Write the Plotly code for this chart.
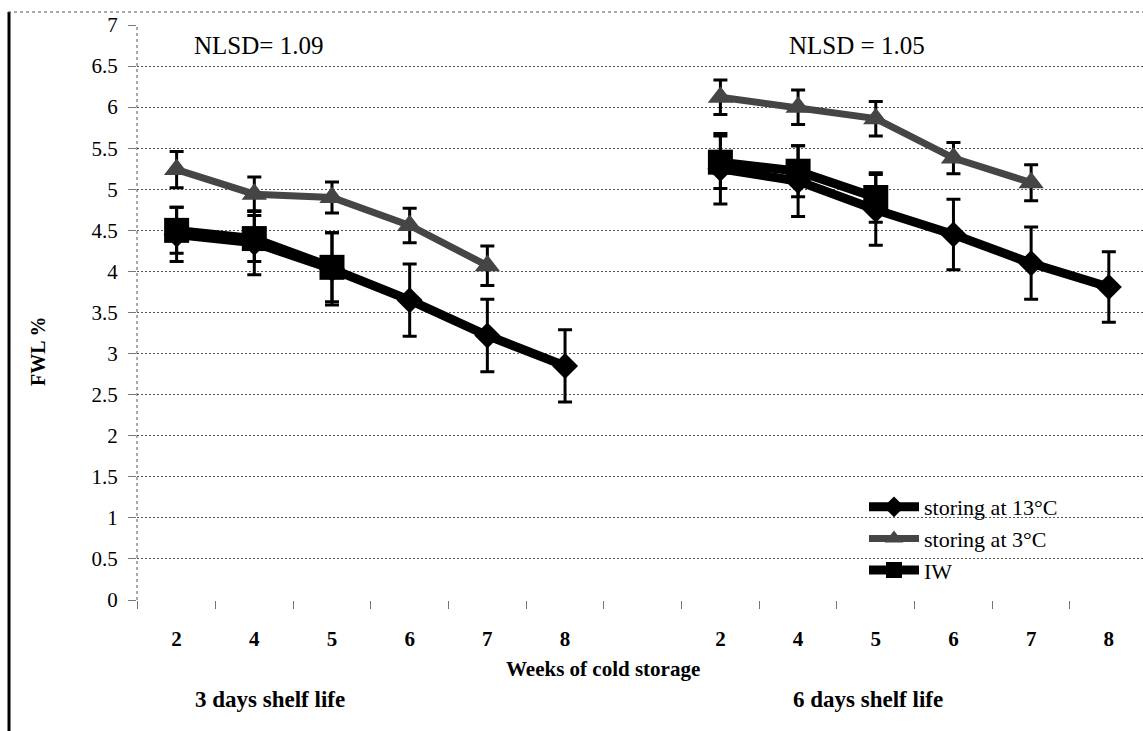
import plotly.graph_objects as go

# ---------------- data ----------------
weeks = ["2", "4", "5", "6", "7", "8"]
shelf_groups = ["3 days shelf life", "6 days shelf life"]
series_names = ["storing at 13°C", "storing at 3°C", "IW"]
nlsd_labels = ["NLSD= 1.09", "NLSD = 1.05"]

# 3 days shelf life
c13_3d = [4.45, 4.35, 4.03, 3.65, 3.22, 2.85]
c13_3d_err = [0.33, 0.39, 0.44, 0.44, 0.44, 0.44]
c3_3d = [5.24, 4.94, 4.90, 4.56, 4.07]
c3_3d_err = [0.22, 0.21, 0.19, 0.21, 0.24]
iw_3d = [4.50, 4.40, 4.05]
iw_3d_err = [0.28, 0.28, 0.42]

# 6 days shelf life
c13_6d = [5.25, 5.10, 4.75, 4.45, 4.10, 3.81]
c13_6d_err = [0.43, 0.43, 0.43, 0.43, 0.44, 0.43]
c3_6d = [6.12, 6.00, 5.86, 5.38, 5.08]
c3_6d_err = [0.21, 0.21, 0.21, 0.19, 0.22]
iw_6d = [5.33, 5.22, 4.90]
iw_6d_err = [0.32, 0.31, 0.30]

# ---------------- layout helpers ----------------
W, H = 1143, 731
PL, PR, PT, PB = 137, 1143, 25, 600   # plot area in pixels

def px(x):
    return (x - PL) / (PR - PL)

def py(y):
    return (PB - y) / (PB - PT)

n = len(weeks)
pos_3d = list(range(n))
pos_6d = [n + 1 + i for i in range(n)]

def combine(left, right):
    xs = pos_3d[:len(left)] + [None] + pos_6d[:len(right)]
    ys = list(left) + [None] + list(right)
    return xs, ys

serif = "Liberation Serif, Times New Roman, serif"
fig = go.Figure()

styles = [
    dict(color="black", symbol="diamond", size=20, width=9),
    dict(color="#454545", symbol="triangle-up", size=22, width=7),
    dict(color="black", symbol="square", size=25, width=9),
]
data = [
    (c13_3d, c13_3d_err, c13_6d, c13_6d_err),
    (c3_3d, c3_3d_err, c3_6d, c3_6d_err),
    (iw_3d, iw_3d_err, iw_6d, iw_6d_err),
]

for name, st, (l, le, r, re) in zip(series_names, styles, data):
    xs, ys = combine(l, r)
    _, es = combine(le, re)
    es = [0 if e is None else e for e in es]
    fig.add_trace(go.Scatter(
        x=xs, y=ys, name=name, mode="lines+markers",
        connectgaps=False,
        line=dict(color=st["color"], width=st["width"]),
        marker=dict(symbol=st["symbol"], size=st["size"], color=st["color"],
                    line=dict(width=0)),
        error_y=dict(type="data", array=es, visible=True, color="black",
                     thickness=3, width=7),
    ))

grid_dash = "2px,2px"
fig.update_yaxes(
    range=[0, 7], dtick=0.5, tick0=0,
    showgrid=True, gridcolor="#555555", gridwidth=1, griddash=grid_dash,
    zeroline=False, showline=False,
    ticks="outside", ticklen=8, tickcolor="#777777", tickwidth=1,
    ticklabelstandoff=6,
    tickfont=dict(family=serif, size=21, color="black"),
)
fig.update_xaxes(
    range=[-0.51, 12.44],
    tickvals=pos_3d + pos_6d, ticktext=weeks + weeks,
    ticks="", showgrid=False, zeroline=False, showline=False,
    ticklabelstandoff=24,
    tickfont=dict(family=serif, size=21, color="black", weight="bold"),
    minor=dict(tickvals=[i + 0.5 for i in range(-1, 2 * n + 1)],
               ticks="outside", ticklen=8, tickcolor="#777777", tickwidth=1),
)

shapes = [
    # left dotted axis line of the plot area
    dict(type="line", xref="paper", yref="paper", x0=0, x1=0, y0=0, y1=1,
         line=dict(color="#555555", width=1, dash="dot")),
    # outer frame: left solid, top dotted
    dict(type="line", xref="paper", yref="paper", x0=px(9), x1=px(9),
         y0=py(12), y1=py(735), line=dict(color="black", width=3)),
    dict(type="line", xref="paper", yref="paper", x0=px(8), x1=px(1145),
         y0=py(12), y1=py(12), line=dict(color="#555555", width=1, dash="dot")),
]

def label(text, x, y, size, angle=0):
    return dict(text=text, xref="paper", yref="paper", x=px(x), y=py(y),
                xanchor="center", yanchor="middle", textangle=angle,
                showarrow=False, font=dict(family=serif, size=size, color="black"))

annotations = [
    label(nlsd_labels[0], 258, 46, 25),
    label(nlsd_labels[1], 857, 46, 25),
    label("<b>FWL %</b>", 38, 352, 20, angle=-90),
    label("<b>Weeks of cold storage</b>", 603, 669, 21),
    label("<b>" + shelf_groups[0] + "</b>", 270, 700, 23),
    label("<b>" + shelf_groups[1] + "</b>", 868, 700, 23),
]

fig.update_layout(
    width=W, height=H,
    margin=dict(l=PL, r=W - PR, t=PT, b=H - PB, pad=0),
    paper_bgcolor="white", plot_bgcolor="white",
    shapes=shapes, annotations=annotations,
    showlegend=True,
    legend=dict(x=px(864), y=py(486), xanchor="left", yanchor="top",
                bgcolor="rgba(0,0,0,0)", borderwidth=0,
                font=dict(family=serif, size=22, color="black"),
                itemwidth=50, tracegroupgap=0),
)

fig.write_html("out.html")
